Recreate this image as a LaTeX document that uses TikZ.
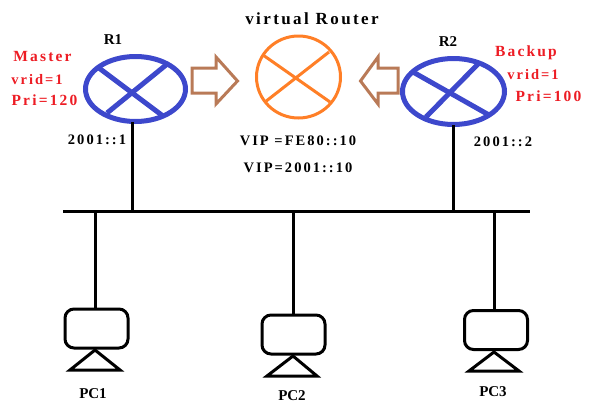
\documentclass[tikz,border=0pt]{standalone}
\usepackage{fontspec}
\setmainfont{Liberation Serif}
\newfontfamily\spaced[LetterSpace=14]{Liberation Serif}
\usetikzlibrary{shapes.geometric}
\definecolor{rblue}{RGB}{61,72,204}
\definecolor{rorange}{RGB}{255,127,39}
\definecolor{rbrown}{RGB}{185,122,87}
\definecolor{rred}{RGB}{237,28,36}
\tikzset{
  router/.style={draw=rblue,line width=5pt,ellipse,inner sep=0pt,minimum width=100pt,minimum height=65pt},
  vrouter/.style={draw=rorange,line width=3pt,ellipse,inner sep=0pt,minimum width=84pt,minimum height=82pt},
  crossblue/.style={draw=rblue,line width=5pt},
  crossorange/.style={draw=rorange,line width=3pt},
  hollow/.style={draw=rbrown,line width=3pt,line join=miter},
  wire/.style={draw=black,line width=3pt},
  pcbox/.style={draw=black,line width=3pt,rounded corners=9pt,minimum width=63pt,minimum height=39pt,inner sep=0pt},
  stand/.style={draw=black,line width=3pt,line join=miter},
  lbl/.style={font=\spaced\bfseries\fontsize{14.5}{15}\selectfont,inner sep=0pt,text=black},
  lblbig/.style={font=\spaced\bfseries\fontsize{17}{17}\selectfont,inner sep=0pt,text=black},
  pclbl/.style={font=\bfseries\fontsize{15}{15}\selectfont,inner sep=0pt,text=black},
  redlbl/.style={font=\spaced\bfseries\fontsize{15.5}{16}\selectfont,inner sep=0pt,text=rred},
  redsm/.style={font=\spaced\bfseries\fontsize{14.5}{14}\selectfont,inner sep=0pt,text=rred}
}
\begin{document}
\begin{tikzpicture}[x=1pt,y=-1pt]
\useasboundingbox (0,0) rectangle (590,408);
% routers
\node[router] (R1) at (135.5,89) {};
\node[router,minimum width=102pt,minimum height=66pt] (R2) at (453.5,91.5) {};
\node[vrouter] (V) at (298.5,77) {};
\draw[crossblue] (99,68) -- (163,116);
\draw[crossblue] (166,65) -- (107,113);
\draw[crossblue] (413,72) -- (489,115);
\draw[crossblue] (479,63) -- (426,117);
\draw[crossorange] (263,55) -- (330,102);
\draw[crossorange] (265,102) -- (329,52);
% arrows
\draw[hollow] (192,68) -- (216,68) -- (216,57) -- (237.5,81) -- (216,104) -- (216,93) -- (192,93) -- cycle;
\draw[hollow] (398,68) -- (378,68) -- (378,57) -- (360.5,81) -- (378,104) -- (378,93) -- (398,93) -- cycle;
% bus
\coordinate (busL) at (63,211);
\coordinate (busR) at (530,211);
\coordinate (b1) at (132.5,211);
\coordinate (b2) at (453.5,211);
\coordinate (b3) at (95,211);
\coordinate (b4) at (293,211);
\coordinate (b5) at (494,211);
\draw[wire] (busL) -- (busR);
\draw[wire] (132.5,122) -- (b1);
\draw[wire] (453.5,125) -- (b2);
% PCs
\node[pcbox] (P1) at (96.5,328.5) {};
\node[pcbox] (P2) at (293.5,334.5) {};
\node[pcbox] (P3) at (496,330) {};
\draw[wire] (b3) -- (b3 |- P1.north);
\draw[wire] (b4) -- (b4 |- P2.north);
\draw[wire] (b5) -- (b5 |- P3.north);
\draw[stand] (95,350) -- (120,370) -- (70,370) -- cycle;
\draw[stand] (293,356) -- (317,376) -- (267,376) -- cycle;
\draw[stand] (494,352) -- (519,371) -- (469,371) -- cycle;
% labels
\node[lblbig] (tV) at (312,19) {virtual\hspace{7pt}Router};
\node[pclbl] (tR1) at (113,40) {R1};
\node[pclbl] (tR2) at (448,42) {R2};
\node[redlbl] (tM) at (42.5,56) {Master};
\node[redsm] (tv1) at (37,80) {vrid=1};
\node[redlbl] (tp1) at (44.5,100) {Pri=120};
\node[redlbl] (tB) at (526,53) {Backup};
\node[redsm] (tv2) at (533,75) {vrid=1};
\node[redlbl] (tp2) at (548.5,96) {Pri=100};
\node[lbl] (a1) at (97,140) {2001::1};
\node[lbl] (a2) at (503,142) {2001::2};
\node[lbl] (vip1) at (298,141) {VIP =FE80::10};
\node[lbl] (vip2) at (298,168) {VIP=2001::10};
\node[pclbl] (n1) at (93,394) {PC1};
\node[pclbl] (n2) at (292,396) {PC2};
\node[pclbl] (n3) at (493,392) {PC3};
\end{tikzpicture}
\end{document}
